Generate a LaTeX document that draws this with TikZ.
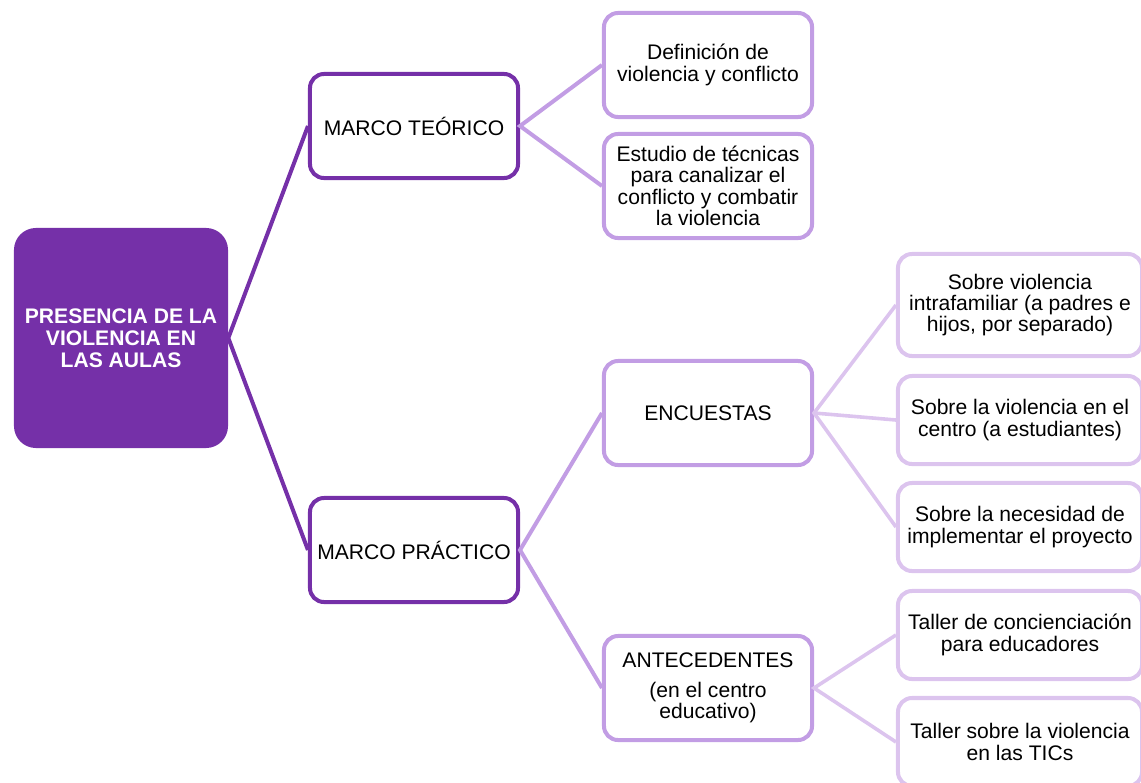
\documentclass[tikz,border=0pt]{standalone}
\usepackage{fontspec}
\setmainfont{Liberation Sans}

\definecolor{rootpurple}{HTML}{7530A8}
\definecolor{midpurple}{HTML}{C29DE4}
\definecolor{lightpurple}{HTML}{DCC4EE}

\begin{document}
\begin{tikzpicture}[x=0.025cm, y=-0.025cm,
    every node/.style={font=\fontsize{15}{15.2}\selectfont, align=center},
    rootbox/.style={rectangle, rounded corners=0.55cm, fill=rootpurple, text=white,
      font=\fontsize{15}{15.6}\selectfont\bfseries, minimum width=5.35cm, minimum height=5.5cm},
    firstbox/.style={rectangle, rounded corners=0.35cm, draw=rootpurple, line width=0.1cm,
      fill=white, minimum width=5.2cm, minimum height=2.6cm},
    secondbox/.style={rectangle, rounded corners=0.35cm, draw=midpurple, line width=0.1cm,
      fill=white, minimum width=5.2cm, minimum height=2.6cm},
    thirdbox/.style={rectangle, rounded corners=0.35cm, draw=lightpurple, line width=0.1cm,
      fill=white, minimum width=6.1cm, minimum height=2.2cm},
    rootline/.style={draw=rootpurple, line width=0.1cm},
    midline/.style={draw=midpurple, line width=0.1cm},
    lightline/.style={draw=lightpurple, line width=0.09cm}]

  \useasboundingbox (0,0) rectangle (1141,782);
  \clip (0,0) rectangle (1141,782);

  % Root and first level
  \node[rootbox] (pres) at (121,338) {PRESENCIA DE LA\\VIOLENCIA EN\\LAS AULAS};
  \node[firstbox] (teo) at (414,126) {MARCO TEÓRICO};
  \node[firstbox] (pra) at (414,550) {MARCO PRÁCTICO};

  % Second level
  \node[secondbox] (def) at (708,65) {Definición de\\violencia y conflicto};
  \node[secondbox] (est) at (708,186) {Estudio de técnicas\\para canalizar el\\conflicto y combatir\\la violencia};
  \node[secondbox] (enc) at (708,413) {ENCUESTAS};
  \node[secondbox] (ant) at (708,688) {ANTECEDENTES\\[6pt](en el centro\\educativo)};

  % Third level
  \node[thirdbox, minimum height=2.55cm] (intra) at (1020,305) {Sobre violencia\\intrafamiliar (a padres e\\hijos, por separado)};
  \node[thirdbox] (cen) at (1020,420) {Sobre la violencia en el\\centro (a estudiantes)};
  \node[thirdbox] (nec) at (1020,527) {Sobre la necesidad de\\implementar el proyecto};
  \node[thirdbox] (con) at (1020,635) {Taller de concienciación\\para educadores};
  \node[thirdbox] (tic) at (1020,742) {Taller sobre la violencia\\en las TICs};

  \draw[rootline] (teo.west) -- (pres.east) -- (pra.west);
  \draw[midline] (def.west) -- (teo.east) -- (est.west);
  \draw[midline] (enc.west) -- (pra.east) -- (ant.west);
  \draw[lightline] (intra.west) -- (enc.east) -- (nec.west);
  \draw[lightline] (enc.east) -- (cen.west);
  \draw[lightline] (con.west) -- (ant.east) -- (tic.west);

\end{tikzpicture}
\end{document}
